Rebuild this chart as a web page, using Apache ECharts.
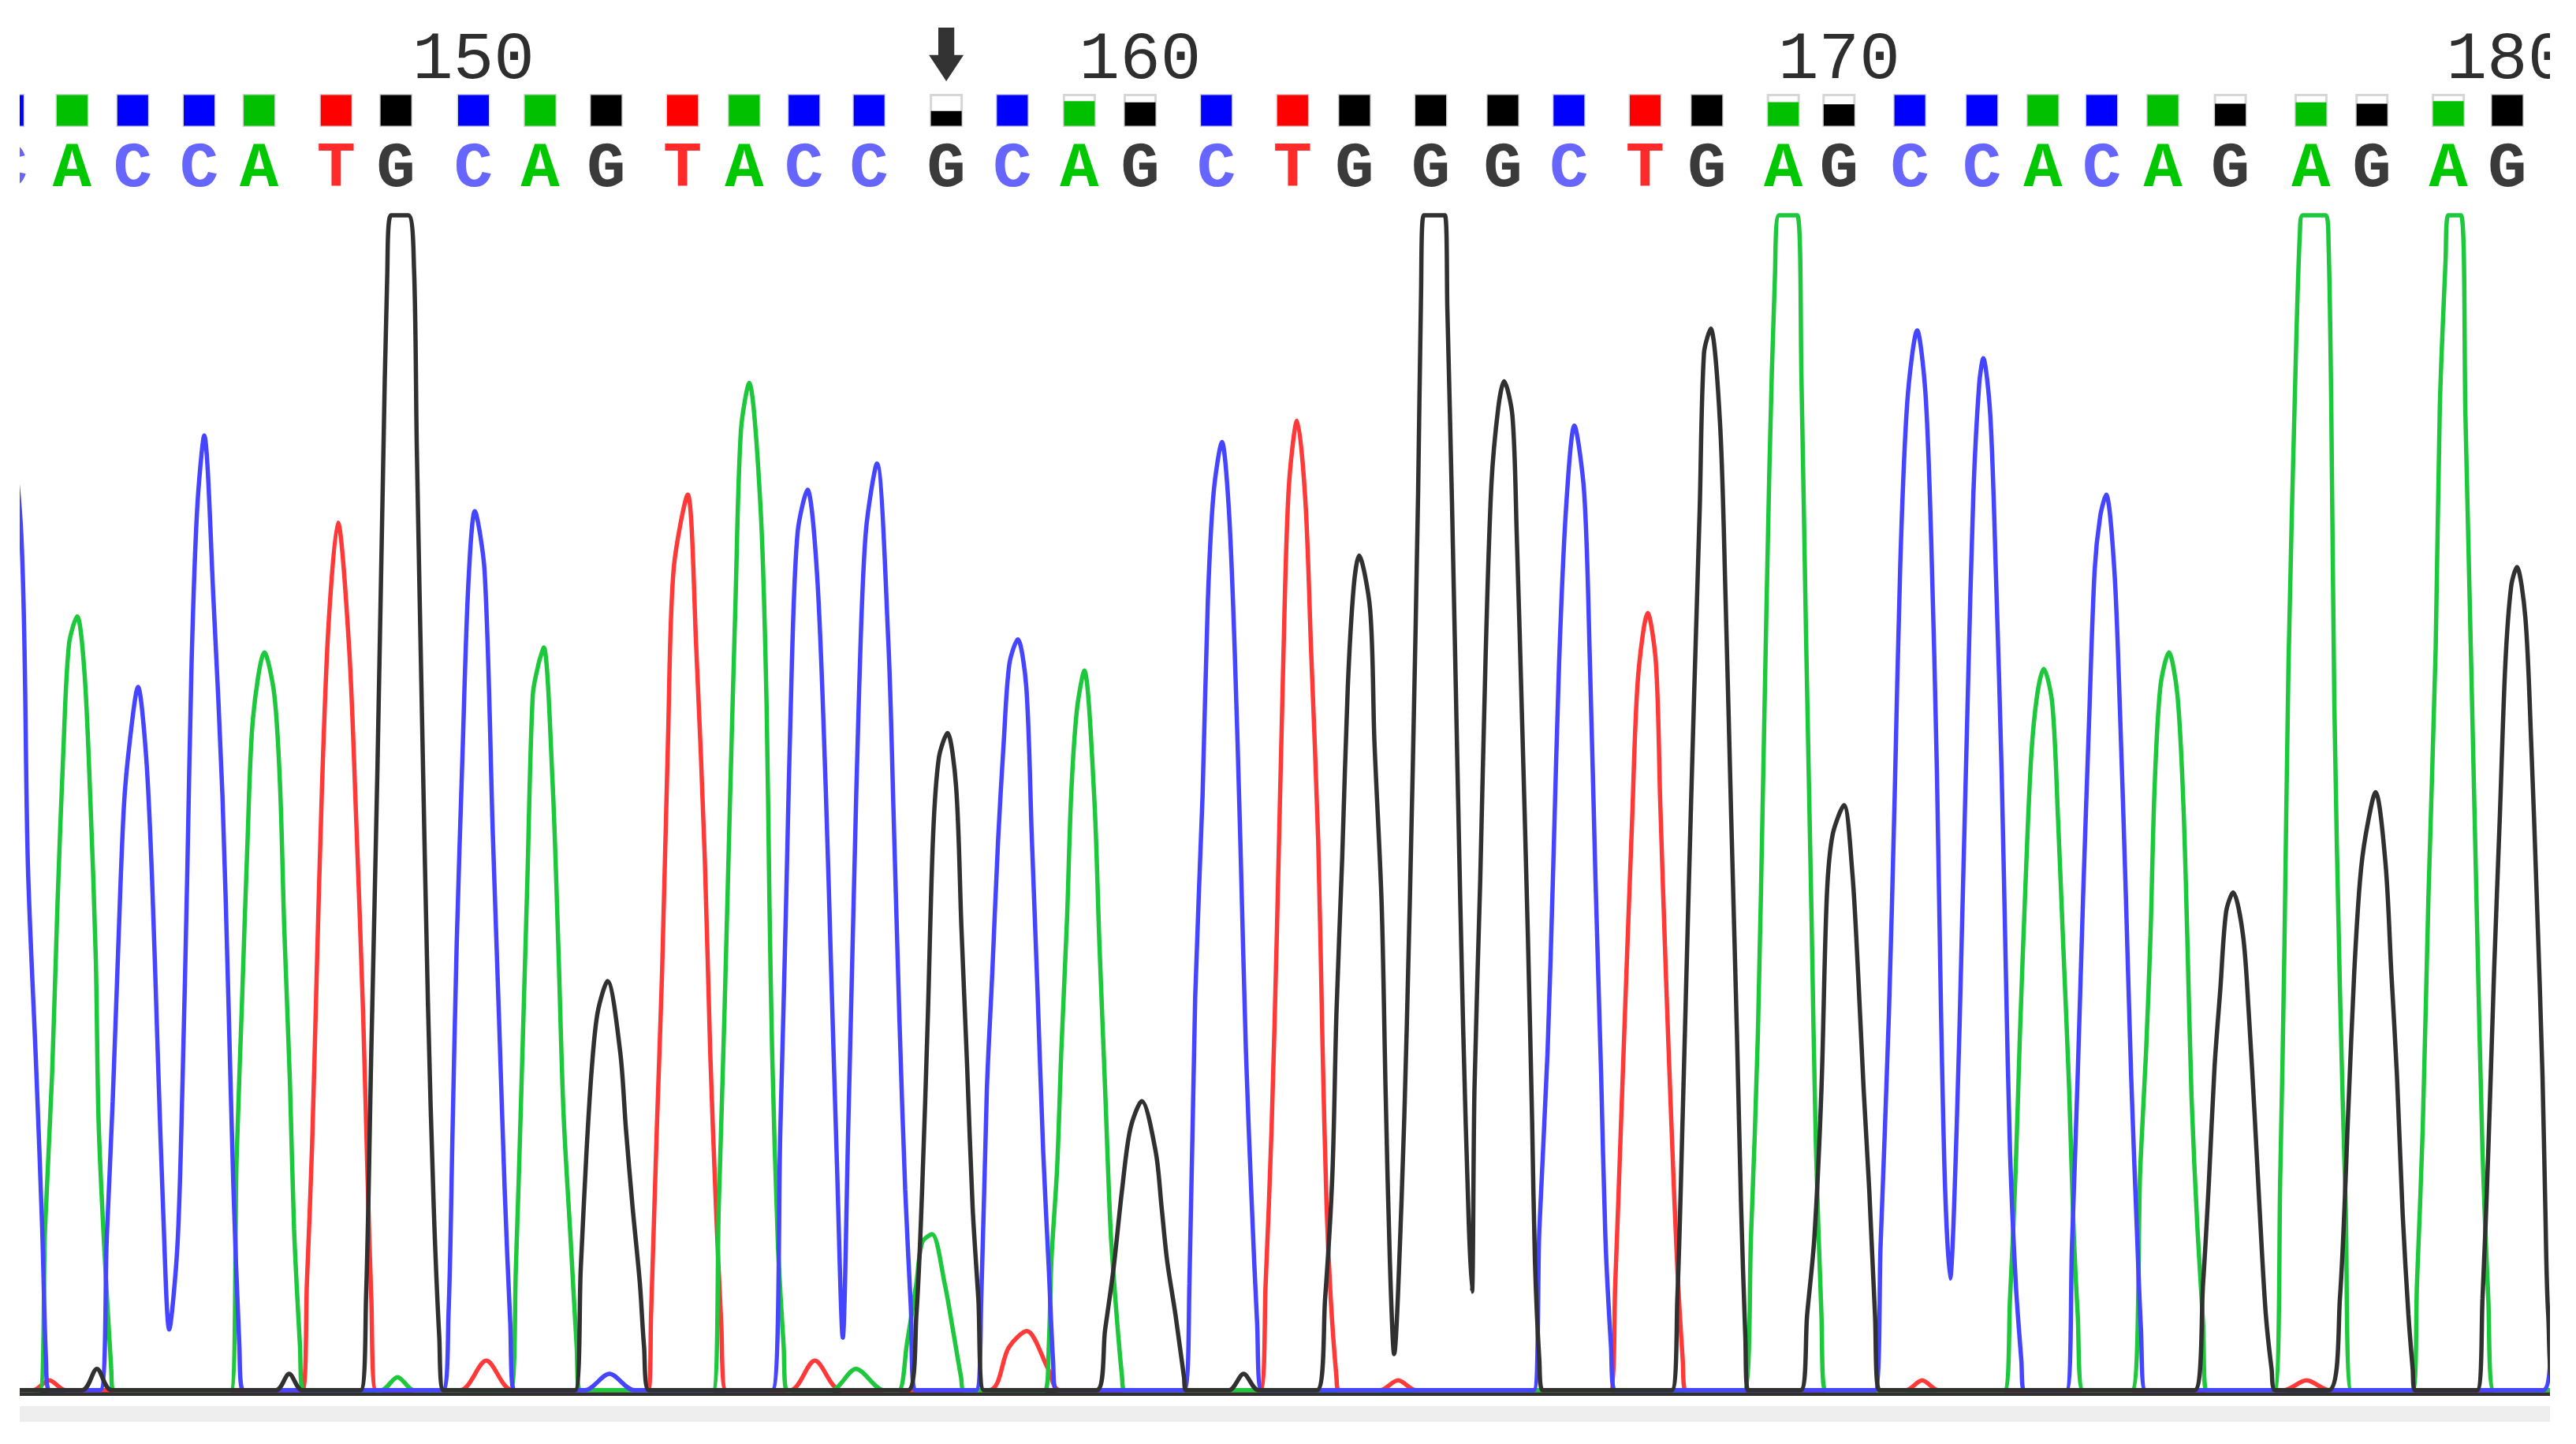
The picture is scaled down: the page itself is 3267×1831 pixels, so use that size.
<!DOCTYPE html>
<html>
<head>
<meta charset="utf-8">
<script src="https://cdn.jsdelivr.net/npm/echarts@6/dist/echarts.min.js"></script>
<style>
html,body{margin:0;padding:0;background:#ffffff;width:3267px;height:1831px;overflow:hidden;}
#clip{position:absolute;left:25px;top:0;width:3209px;height:1831px;overflow:hidden;background:#ffffff;}
#chart{position:absolute;left:-25px;top:0;width:3267px;height:1831px;}
</style>
</head>
<body>
<div id="clip"><div id="chart"></div></div>
<script>
// ---------------- DATA (x in scan units, y in signal units) ----------------
const firstBase = 143;
const markedBase = 157;
const bases = ['C','A','C','C','A','T','G','C','A','G','T','A','C','C','G','C','A','G','C','T',
               'G','G','G','C','T','G','A','G','C','C','A','C','A','G','A','G','A','G'];
const basePos = [5, 43.9, 80.8, 121.2, 157.7, 204.6, 241, 288.2, 328.8, 369,
                 415.4, 453, 489.4, 529, 576, 616.2, 657, 694, 740.4, 786.8,
                 824.5, 870.9, 914.8, 955, 1001.4, 1039, 1085.5, 1119.4, 1162.5, 1206.4,
                 1243.5, 1279.3, 1316.5, 1357.6, 1406.7, 1443.8, 1490.3, 1526.2];
const baseQuality = [1,1,1,1,1,1,1,1,1,1, 1,1,1,1,0.48,1,0.8,0.76,1,1,
                     1,1,1,1,1,1,0.77,0.7,1,1, 1,1,1,0.72,0.76,0.72,0.8,1];

// trace samples: [scan position, signal]
const traceA = [[-20,2],[14,2],
  [24,2],[27.4,100],[31.7,194],[35,298],[38.6,392],[42,456],[47,473],[51.4,439],[54.9,364],[58.3,265],[60,166],[63.4,90],[67.7,15],[69,2],
  [140.5,2],[144,142],[147.4,241],[150.8,340],[154,411],[161,451],[167,425],[170.5,369],[173,284],[176.5,189],[179,100],[182.6,29],[184.5,2],
  [232,2],[242,10],[252,2],
  [310.6,2],[314,76],[317.5,190],[321,312],[324.3,425],[327.8,444],[331,454],[336.3,373],[339.8,274],[343,171],[347.5,91],[351,29],[353,2],
  [434,2],[437.5,114],[441,232],[444.3,359],[447.7,482],[451,586],[456,615],[463,538],[466.6,420],[468.3,303],[470,208],[473.5,91],[477,29],[479,2],
  [506,2],[521,15],[538,2],
  [547,2],[552,30],[557.8,67],[561.3,92],[567.3,97],[575,67],[580,39],[585,10],[587,2],
  [636,2],[638.4,29],[640,81],[643.5,138],[646,208],[649.5,289],[652,364],[655.5,416],[660,440],[666,364],[669.2,274],[672.7,185],[676,100],[679.5,50],[683,10],[684.5,2],
  [1061.5,2],[1065.8,95],[1070,218],[1073.5,388],[1077,562],[1080.4,680],[1083,717],[1094,717],[1096.5,620],[1099.3,463],[1102.7,289],[1105.3,152],[1108.7,48],[1111,2],
  [1220,2],[1223.5,58],[1227,138],[1229.5,218],[1233,312],[1236.4,388],[1240,425],[1244,441],[1249.2,420],[1252.7,350],[1256,270],[1259.5,185],[1262,105],[1264.7,48],[1268,2],
  [1297.6,2],[1302.8,138],[1306.3,208],[1309,279],[1311.5,369],[1315,430],[1320.2,451],[1325.4,425],[1329,359],[1331.5,274],[1334,180],[1337.6,100],[1341,43],[1343,2],
  [1384.4,2],[1388,133],[1390.5,270],[1393,444],[1397.4,628],[1400,708],[1401.8,717],[1415.7,717],[1417.4,699],[1419,604],[1420.9,420],[1424.3,246],[1427.8,114],[1431.3,2],
  [1468.6,2],[1471.2,67],[1474.7,161],[1478.2,303],[1482.6,454],[1485.1,600],[1488.6,689],[1490.3,717],[1498,717],[1500.7,595],[1504.2,444],[1507.7,289],[1511.1,147],[1514.6,58],[1518,2],
  [1600,2]];

const traceC = [[-40,2],[-20,300],[3,610],[12.9,524],[17,321],[22,199],[25.7,100],[28,20],[30,2],
  [61,2],[65,95],[68.6,178],[72,272],[75.4,357],[79,397],[84,430],[89,387],[92.6,312],[96,208],[99.4,109],[103,39],
  [108,90],[111,185],[114,317],[116.6,444],[120,538],[124.3,583],[130,482],[135.4,364],[139,241],[142,128],[145.7,29],[148,2],
  [269.5,2],[273,48],[275.5,161],[278,274],[281.5,388],[285,491],[289,537],[295,500],[300,340],[303.8,227],[307.2,124],[310.6,43],[313,2],
  [356,2],[371,12],[386,2],
  [470,2],[475,161],[478.6,303],[482,444],[485.5,524],[491.5,550],[497.5,496],[502.6,369],[506,255],[509.5,138],[513,34],
  [516.3,161],[519.7,303],[523,430],[527,524],[533.8,566],[540.7,458],[544,350],[547.5,227],[551,124],[554.4,53],[557,2],
  [594,2],[597.3,58],[600.7,185],[604,256],[607.5,336],[611,397],[614.4,444],[619.5,459],[624.7,430],[628,340],[631.5,246],[635,147],[638.4,76],[641,20],[643,2],
  [720.7,2],[724,67],[727.5,241],[732,364],[735.2,482],[738.7,548],[743.8,579],[748,538],[751.5,454],[755,336],[758.4,208],[762,114],[765.2,43],[768,2],
  [933.5,2],[937,100],[942,208],[945.5,322],[949,444],[953.2,538],[958.3,589],[964.3,548],[967.8,444],[971.2,312],[974.6,194],[977.2,95],[980.6,29],[983,2],
  [1141.3,2],[1144.7,90],[1149.8,232],[1153.3,364],[1156.7,505],[1161,604],[1167,647],[1172,609],[1175.5,520],[1179,378],[1181.5,232],[1184,124],[1187,70],
  [1191,161],[1194.4,289],[1197.8,425],[1201.2,548],[1204.7,614],[1207.2,630],[1211.5,595],[1215,496],[1218.4,378],[1221,255],[1223.5,147],[1227,67],[1230.4,20],[1232,2],
  [1257.8,2],[1261.2,90],[1264.7,194],[1268,303],[1271.5,406],[1275,501],[1278.4,534],[1282,547],[1287,501],[1290.4,416],[1294,303],[1297.2,194],[1300.7,100],[1303.2,39],[1306,2],
  [1548,2],[1553,40],[1560,250],[1575,520],[1600,2]];

const traceG = [[-20,2],[50,2],[59,15],[68,2],
  [168,2],[176,12],[184,2],
  [219.4,2],[222.8,58],[226,208],[229.7,378],[233,553],[235.7,680],[238,717],[248.5,717],[252,685],[253.7,576],[257,406],[260.5,237],[264,114],[267.4,34],[270,2],
  [350,2],[353.5,76],[357,147],[360.3,199],[363.8,232],[369.8,251],[377.5,208],[381,161],[385,114],[389.5,67],[392,29],[395,2],
  [552.7,2],[557.8,48],[561.3,124],[564.7,227],[568,340],[571.5,387],[576.7,402],[582,369],[585.2,284],[588.7,199],[592,114],[595.5,58],[599,2],
  [667.5,2],[672.7,39],[677.8,76],[683,124],[688,161],[695,178],[703.5,147],[707,114],[710.4,81],[715.5,48],[720.7,10],[722,2],
  [748,2],[757,12],[766,2],
  [801.5,2],[806.6,58],[811,133],[813.5,232],[817,326],[820.4,430],[824,491],[827.2,510],[834,477],[836.6,397],[841,298],[843.5,180],[846,81],[848.6,24],
  [853,114],[856.3,223],[860,383],[863.2,548],[865,670],[866.6,717],[879.5,717],[881,660],[883.8,543],[887.2,378],[890.6,223],[894,105],[896,62],
  [897.5,185],[901,312],[904.3,449],[907.8,553],[912,600],[915.5,616],[920.6,595],[923.2,524],[926.6,406],[930,279],[932.6,166],[934.3,81],[937,20],[939,2],
  [1017.5,2],[1021,58],[1024.3,171],[1027.8,303],[1031.2,425],[1034.6,538],[1037.2,633],[1041.3,648],[1047,590],[1050.4,482],[1053.8,350],[1057.3,218],[1059.8,114],[1062.4,34],[1064,2],
  [1096,2],[1100,48],[1104.4,95],[1108.7,185],[1112,303],[1115.5,340],[1122.4,358],[1127.5,317],[1131,256],[1134.4,185],[1137.8,124],[1141.3,48],[1144,2],
  [1335.8,2],[1341,67],[1344.5,128],[1348,199],[1351.5,246],[1355,293],[1359.3,305],[1365.3,279],[1368.8,232],[1372.3,171],[1375.8,105],[1379.2,48],[1382.7,15],[1385,2],
  [1417.4,2],[1424.3,58],[1429.5,175],[1433,256],[1436.5,312],[1440,340],[1446,366],[1452.1,322],[1455.6,256],[1459,194],[1462.5,109],[1466,48],[1468.6,15],[1470,2],
  [1507.7,2],[1511.1,58],[1514.6,147],[1518.1,256],[1521.6,350],[1525,444],[1528.5,491],[1532,503],[1537.2,472],[1540.7,397],[1544.1,303],[1547.6,194],[1549.3,114],[1551.1,48],[1556,2],
  [1600,2]];

const traceT = [[-20,2],[20,2],[30,8],[40,2],
  [184,2],[186.8,67],[190,152],[192.8,256],[196,369],[200,468],[205.7,530],[212.5,454],[216.8,350],[221,232],[223.7,133],[226,58],[229,2],
  [280,2],[296,20],[312,2],
  [394.6,2],[396.3,48],[399.8,161],[403,256],[406.6,397],[410,501],[418.6,547],[423.8,454],[429,326],[432.3,208],[435.8,114],[439,43],[442,2],
  [481,2],[496,20],[512,2],
  [602,2],[614,28],[625,38],[638,15],[645,2],
  [767,2],[770.4,67],[774,161],[777.2,279],[781,440],[784.4,550],[789.5,592],[794.6,543],[798,454],[802.4,336],[805,213],[807.5,114],[810,58],[813.5,10],[815,2],
  [840,2],[851,8],[862,2],
  [980,2],[983.2,67],[986.6,161],[990,256],[993.5,350],[997,435],[1003,475],[1008,444],[1010.6,359],[1014,256],[1017.5,161],[1021,76],[1024.3,20],[1026,2],
  [1160,2],[1170,8],[1180,2],
  [1390,2],[1404,8],[1418,2],
  [1600,2]];

// ---------------- STYLE ----------------
const traceColor  = {A:'#1ec83c', C:'#4545ff', G:'#303030', T:'#ff3838'};
const squareColor = {A:'#00c000', C:'#0000ff', G:'#000000', T:'#ff0000'};
const letterColor = {A:'#00c800', C:'#6666ff', G:'#3a3a3a', T:'#ff2b2b'};
const NUM_Y = 76, SQ_Y = 140, LET_Y = 215, ARROW_Y = 69, SQ = 39;
const X_MIN = 0, X_MAX = 1568;

const chart = echarts.init(document.getElementById('chart'), null, {renderer:'canvas', width:3267, height:1831});

function traceSeries(name, data, color, z){
  return {type:'line', name, xAxisIndex:0, yAxisIndex:0, data, smooth:0.3,
          showSymbol:false, symbol:'none', clip:true, z,
          lineStyle:{color, width:5.5}, emphasis:{disabled:true}};
}

const headerIdx = basePos.map((x,i)=>[x, baseQuality[i], i]);
const tickIdx = headerIdx.filter(d => (firstBase + d[2]) % 10 === 0);
const markIdx = markedBase - firstBase;

const option = {
  animation:false,
  backgroundColor:'#ffffff',
  grid:[
    {left:0, right:0, top:246, bottom:64},
    {left:0, right:0, top:0, height:246}
  ],
  xAxis:[
    {gridIndex:0, type:'value', min:X_MIN, max:X_MAX, position:'bottom',
     axisLine:{show:true, onZero:false, lineStyle:{color:'#303030', width:5}},
     axisTick:{show:false}, axisLabel:{show:false}, splitLine:{show:false}},
    {gridIndex:0, type:'value', min:X_MIN, max:X_MAX, position:'bottom', offset:26,
     axisLine:{show:true, onZero:false, lineStyle:{color:'#eeeeee', width:20}},
     axisTick:{show:false}, axisLabel:{show:false}, splitLine:{show:false}},
    {gridIndex:1, type:'value', min:X_MIN, max:X_MAX, show:false}
  ],
  yAxis:[
    {gridIndex:0, type:'value', min:0, max:730, show:false},
    {gridIndex:1, type:'value', min:0, max:246, inverse:true, show:false}
  ],
  series:[
    traceSeries('T', traceT, traceColor.T, 2),
    traceSeries('A', traceA, traceColor.A, 3),
    traceSeries('C', traceC, traceColor.C, 4),
    traceSeries('G', traceG, traceColor.G, 5),
    { // quality squares
      type:'custom', xAxisIndex:2, yAxisIndex:1, clip:false, data:headerIdx,
      renderItem:(params, api)=>{
        const i = api.value(2), q = api.value(1);
        const c = api.coord([api.value(0), SQ_Y]);
        return {type:'group', children:[
          {type:'rect', shape:{x:c[0]-SQ/2, y:c[1]-SQ/2, width:SQ, height:SQ},
           style:{fill:'#ffffff', stroke:'#d6d6d6', lineWidth:3}},
          {type:'rect', shape:{x:c[0]-SQ/2, y:c[1]+SQ/2-SQ*q, width:SQ, height:SQ*q},
           style:{fill:squareColor[bases[i]]}}
        ]};
      }
    },
    { // base letters
      type:'custom', xAxisIndex:2, yAxisIndex:1, clip:false, data:headerIdx,
      renderItem:(params, api)=>{
        const i = api.value(2);
        const c = api.coord([api.value(0), LET_Y]);
        return {type:'text', x:c[0], y:c[1],
          style:{text:bases[i], fill:letterColor[bases[i]], font:'bold 82px "Liberation Mono"',
                 align:'center', verticalAlign:'middle'}};
      }
    },
    { // position numbers
      type:'custom', xAxisIndex:2, yAxisIndex:1, clip:false, data:tickIdx,
      renderItem:(params, api)=>{
        const i = api.value(2);
        const c = api.coord([api.value(0), NUM_Y]);
        return {type:'text', x:c[0], y:c[1],
          style:{text:String(firstBase + i), fill:'#2e2e2e', font:'86px "Liberation Mono"',
                 align:'center', verticalAlign:'middle'}};
      }
    },
    { // marker arrow
      type:'scatter', xAxisIndex:2, yAxisIndex:1, clip:false,
      data:[[basePos[markIdx], ARROW_Y]],
      symbol:'path://M27,0 L73,0 L73,51 L100,51 L50,100 L0,51 L27,51 Z',
      symbolSize:[44,68], symbolKeepAspect:false,
      itemStyle:{color:'#000000'}, silent:true
    }
  ]
};
chart.setOption(option);
</script>
</body>
</html>
